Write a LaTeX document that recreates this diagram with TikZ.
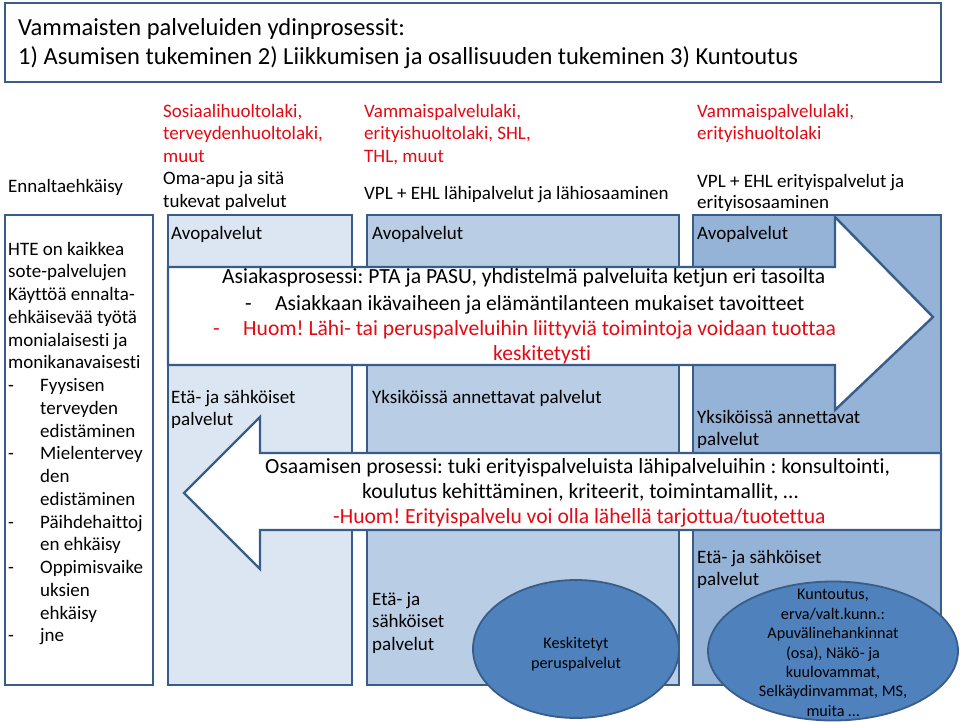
\documentclass[tikz,border=0pt]{standalone}
\usepackage{fontspec}
\setmainfont{Carlito}[Ligatures={NoCommon}]
\frenchspacing
\usetikzlibrary{shapes.geometric}
\definecolor{bordc}{RGB}{56,93,138}
\definecolor{colA}{RGB}{220,230,242}
\definecolor{colB}{RGB}{185,205,229}
\definecolor{colC}{RGB}{149,179,215}
\definecolor{ellc}{RGB}{79,129,189}
\definecolor{redt}{RGB}{228,10,20}
\newcommand\fsT{\fontsize{24.5}{29}\selectfont}
\newcommand\fsM{\fontsize{19}{22}\selectfont}
\newcommand\fsL{\fontsize{21.6}{25}\selectfont}
\newcommand\fsS{\fontsize{16.2}{19.4}\selectfont}
\begin{document}
\frenchspacing
\begin{tikzpicture}[x=1pt,y=-1pt,
  bd/.style={draw=bordc,line width=2.4pt,line join=miter},
  tx/.style={inner sep=0pt,anchor=base west,font=\fsM},
  txL/.style={inner sep=0pt,anchor=base west,font=\fsL},
  rd/.style={text=redt},
  ell/.style={ellipse,draw=bordc,line width=1.8pt,fill=ellc,inner sep=0pt}]
\useasboundingbox (0,0) rectangle (960,722);
\fill[white] (0,0) rectangle (960,722);
% title
\draw[bd,fill=white] (5,3) rectangle (941,82);
\node[inner sep=0pt,anchor=base west,font=\fsT] (t1) at (18,36) {Vammaisten palveluiden ydinprosessit:};
\node[inner sep=0pt,anchor=base west,font=\fsT] (t2) at (18,65) {1) Asumisen tukeminen 2) Liikkumisen ja osallisuuden tukeminen 3) Kuntoutus};
% headers
\node[tx] (enn) at (8,193) {Ennaltaehkäisy};
\node[tx,rd] (h1a) at (163,118) {Sosiaalihuoltolaki,};
\node[tx,rd] (h1b) at (163,140) {terveydenhuoltolaki,};
\node[tx,rd] (h1c) at (163,163) {muut};
\node[tx] (h1d) at (163,185) {Oma-apu ja sitä};
\node[tx] (h1e) at (163,207) {tukevat palvelut};
\node[tx,rd] (h2a) at (364,118) {Vammaispalvelulaki,};
\node[tx,rd] (h2b) at (364,140) {erityishuoltolaki, SHL,};
\node[tx,rd] (h2c) at (364,163) {THL, muut};
\node[tx] (h2d) at (364,200) {VPL + EHL lähipalvelut ja lähiosaaminen};
\node[tx,rd] (h3a) at (697,118) {Vammaispalvelulaki,};
\node[tx,rd] (h3b) at (697,140) {erityishuoltolaki};
\node[tx] (h3c) at (697,187) {VPL + EHL erityispalvelut ja};
\node[tx] (h3d) at (697,208) {erityisosaaminen};
% columns
\draw[bd,fill=white] (5,215) rectangle (153,685);
\draw[bd,fill=colA] (168,215) rectangle (352,685);
\draw[bd,fill=colB] (367,215) rectangle (679,685);
\draw[bd,fill=colC] (693,215) rectangle (941,685);
% left column text
\foreach \xx/\tt [count=\i from 0] in {8/HTE on kaikkea,8/sote-palvelujen,8/Käyttöä ennalta-,8/ehkäisevää työtä,8/monialaisesti ja,8/monikanavaisesti,40/Fyysisen,40/terveyden,40/edistäminen,40/Mielentervey,40/den,40/edistäminen,40/Päihdehaittoj,40/en ehkäisy,40/Oppimisvaike,40/uksien,40/ehkäisy,40/jne}
  \node[tx] (lc\i) at (\xx,255+22.75*\i) {\tt};
\foreach \i in {6,9,12,14,17}
  \node[tx] (ld\i) at (8,255+22.75*\i) {-};
% column texts
\node[tx] (av1) at (171,239) {Avopalvelut};
\node[tx] (av2) at (372,239) {Avopalvelut};
\node[tx] (av3) at (697,239) {Avopalvelut};
\node[tx] (es1a) at (171,403) {Etä- ja sähköiset};
\node[tx] (es1b) at (171,425) {palvelut};
\node[tx] (yk2) at (372,403) {Yksiköissä annettavat palvelut};
\node[tx] (yk3a) at (697,423) {Yksiköissä annettavat};
\node[tx] (yk3b) at (697,445) {palvelut};
\node[tx] (es2a) at (372,605) {Etä- ja};
\node[tx] (es2b) at (372,627.5) {sähköiset};
\node[tx] (es2c) at (372,650) {palvelut};
\node[tx] (es3a) at (697,563) {Etä- ja sähköiset};
\node[tx] (es3b) at (697,585.5) {palvelut};
% right arrow
\draw[bd,fill=white] (168,267) -- (835,267) -- (835,217) -- (933,317) -- (835,410) -- (835,365) -- (168,365) -- cycle;
\node[txL] (ra1) at (222,283) {Asiakasprosessi: PTA ja PASU, yhdistelmä palveluita ketjun eri tasoilta};
\node[txL] (ra2d) at (245,310) {-};
\node[txL] (ra2) at (275,310) {Asiakkaan ikävaiheen ja elämäntilanteen mukaiset tavoitteet};
\node[txL,rd] (ra3d) at (213,335) {-};
\node[txL,rd] (ra3) at (243,335) {Huom! Lähi- tai peruspalveluihin liittyviä toimintoja voidaan tuottaa};
\node[txL,rd] (ra4) at (493,360) {keskitetysti};
% left arrow
\draw[bd,fill=white] (941,453) -- (260,453) -- (260,417) -- (184,493) -- (260,569) -- (260,530) -- (941,530) -- cycle;
\node[txL] (la1) at (265,473) {Osaamisen prosessi: tuki erityispalveluista lähipalveluihin : konsultointi,};
\node[txL] (la2) at (362,498) {koulutus kehittäminen, kriteerit, toimintamallit, …};
\node[txL,rd] (la3) at (333,523) {-Huom! Erityispalvelu voi olla lähellä tarjottua/tuotettua};
% ellipses
\node[ell,minimum width=206pt,minimum height=138pt] (e1) at (576,649) {};
\node[ell,minimum width=250pt,minimum height=139pt] (e2) at (833,651) {};
\node[inner sep=0pt,align=center,font=\fsS] (e1t) at (576,654) {Keskitetyt\\peruspalvelut};
\node[inner sep=0pt,align=center,font=\fsS] (e2t) at (833,653) {Kuntoutus,\\erva/valt.kunn.:\\Apuvälinehankinnat\\(osa), Näkö- ja\\kuulovammat,\\Selkäydinvammat, MS,\\muita …};
\end{tikzpicture}
\end{document}
